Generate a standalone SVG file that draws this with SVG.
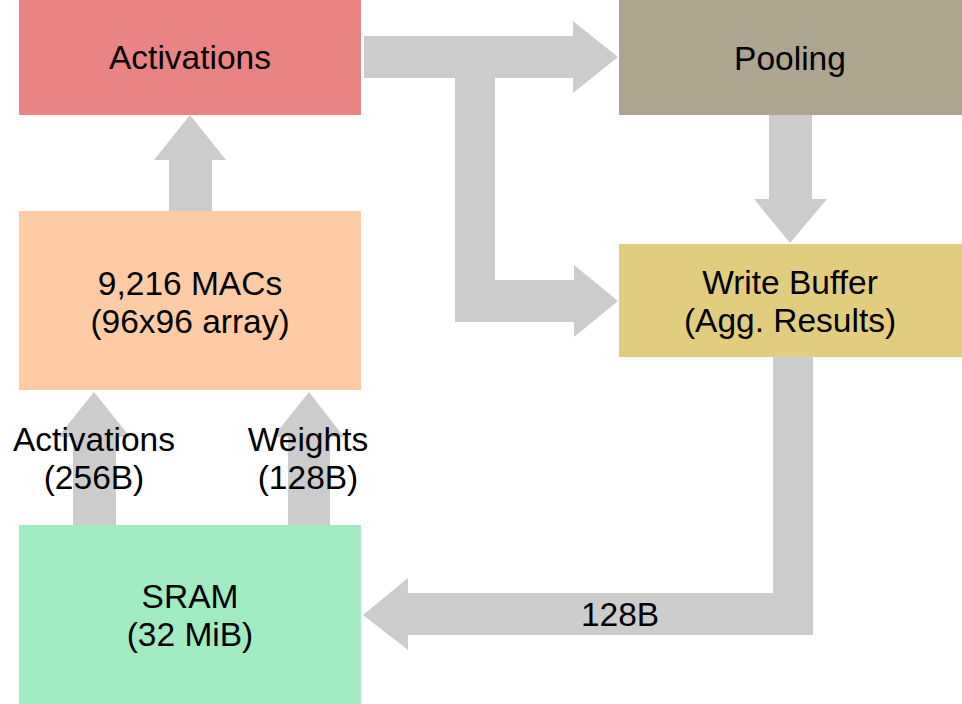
<svg xmlns="http://www.w3.org/2000/svg" width="962" height="704" viewBox="0 0 962 704">
<style>
.t{font-family:"Liberation Sans",Arial,Helvetica,sans-serif;font-size:33.5px;fill:#000;text-anchor:middle}
.a{fill:#CCCCCC;stroke:none}
</style>
<rect width="962" height="704" fill="#FFFFFF"/>
<g id="connectors">
<path class="a" d="M364,36 L573,36 L573,21 L618,57 L573,93 L573,78 L495,78 L495,280 L574,280 L574,265 L618,301 L574,337 L574,322 L455,322 L455,78 L364,78 Z"/>
<path class="a" d="M769,115 L812,115 L812,199 L827,199 L790,243 L754,199 L769,199 Z"/>
<path class="a" d="M773,357 L813,357 L813,635 L408,635 L408,650 L363,615 L408,578 L408,593 L773,593 Z"/>
<path class="a" d="M169,211 L212,211 L212,160 L226,160 L190,115 L154,160 L169,160 Z"/>
<path class="a" d="M73,525 L116,525 L116,437 L130,437 L94,392 L58,437 L73,437 Z"/>
<path class="a" d="M288,525 L330,525 L330,437 L344,437 L309,392 L273,437 L288,437 Z"/>
<text class="t" x="620" y="626">128B</text>
<text class="t" x="94" y="451">Activations</text>
<text class="t" x="94" y="489">(256B)</text>
<text class="t" x="308" y="451">Weights</text>
<text class="t" x="308" y="489">(128B)</text>
</g>
<g id="activations">
<rect x="19" y="0" width="342" height="115" fill="#EA8482"/>
<text class="t" x="190" y="69">Activations</text>
</g>
<g id="pooling">
<rect x="619" y="0" width="343" height="115" fill="#ADA58F"/>
<text class="t" x="790" y="70">Pooling</text>
</g>
<g id="macs">
<rect x="19" y="211" width="342" height="179" fill="#FFCBA4"/>
<text class="t" x="190" y="295">9,216 MACs</text>
<text class="t" x="190" y="333">(96x96 array)</text>
</g>
<g id="writebuffer">
<rect x="619" y="244" width="343" height="113" fill="#E2CD7E"/>
<text class="t" x="790" y="294">Write Buffer</text>
<text class="t" x="790" y="332">(Agg. Results)</text>
</g>
<g id="sram">
<rect x="19" y="525" width="342" height="179" fill="#A0EBC1"/>
<text class="t" x="190" y="608">SRAM</text>
<text class="t" x="190" y="646">(32 MiB)</text>
</g>
</svg>
